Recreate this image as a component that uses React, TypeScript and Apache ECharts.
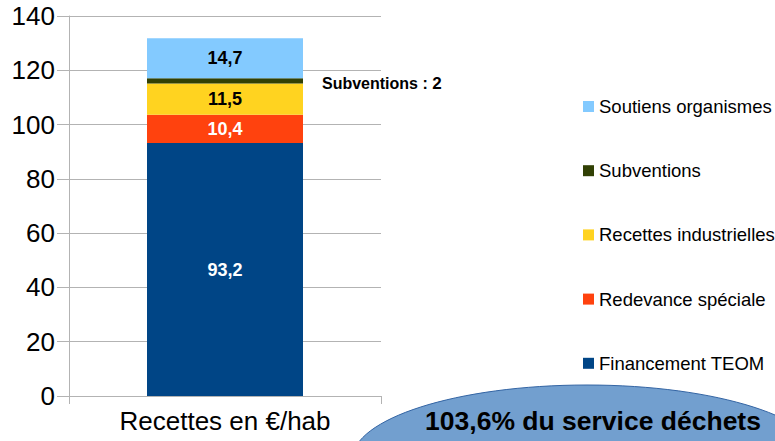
import React, { useEffect, useRef } from "react";
import * as echarts from "echarts";

const categories = ["Recettes en €/hab"];
const seriesNames = [
  "Financement TEOM",
  "Redevance spéciale",
  "Recettes industrielles",
  "Subventions",
  "Soutiens organismes",
];
const teom = [93.2];
const redevance = [10.4];
const recettesInd = [11.5];
const subventions = [2];
const soutiens = [14.7];
const colors = ["#004586", "#ff420e", "#ffd320", "#314004", "#83caff"];
const yTicks = { min: 0, max: 140, interval: 20 };
const calloutText = "103,6% du service déchets";

const FONT = "'Liberation Sans', Arial, sans-serif";

const fmt = (v: number) => String(v).replace(".", ",");

export default function App() {
  const ref = useRef<HTMLDivElement>(null);
  useEffect(() => {
    if (!ref.current) return;
    const chart = echarts.init(ref.current, null, { renderer: "svg" });
    const values = [teom, redevance, recettesInd, subventions, soutiens];
    const labelColors = ["#ffffff", "#ffffff", "#000000", "#000000", "#000000"];
    const series = values.map((vals, i) => {
      const base: any = {
        name: seriesNames[i],
        type: "bar",
        stack: "total",
        barWidth: "50%",
        data: vals,
        itemStyle: { color: colors[i] },
      };
      if (i === 3) {
        base.label = {
          show: true,
          position: "right",
          distance: 19,
          offset: [0, 3],
          fontFamily: FONT,
          fontWeight: "bold",
          fontSize: 16,
          color: "#000",
          formatter: (p: any) => `Subventions : {v|${fmt(p.value)}}`,
          rich: {
            v: { fontFamily: FONT, fontWeight: "bold", fontSize: 17, color: "#000" },
          },
        };
      } else {
        base.label = {
          show: true,
          position: "inside",
          fontFamily: FONT,
          fontWeight: "bold",
          fontSize: 18,
          color: labelColors[i],
          formatter: (p: any) => fmt(p.value),
        };
      }
      return base;
    });
    chart.setOption({
      animation: false,
      textStyle: { fontFamily: FONT },
      grid: { left: 69, right: 394, top: 16, bottom: 45, containLabel: false },
      legend: {
        orient: "vertical",
        left: 578,
        top: 92,
        itemWidth: 11,
        itemHeight: 11,
        itemGap: 45.2,
        icon: "rect",
        data: [...seriesNames].reverse(),
        textStyle: { fontFamily: FONT, fontSize: 18.5, color: "#000" },
        selectedMode: false,
      },
      xAxis: {
        type: "category",
        data: categories,
        axisLine: { lineStyle: { color: "#b3b3b3" } },
        axisTick: { show: true, length: 8, lineStyle: { color: "#b3b3b3" } },
        axisLabel: { fontFamily: FONT, fontSize: 26, color: "#000", margin: 12 },
      },
      yAxis: {
        type: "value",
        min: yTicks.min,
        max: yTicks.max,
        interval: yTicks.interval,
        axisLine: { show: true, lineStyle: { color: "#b3b3b3" } },
        axisTick: { show: true, length: 12, lineStyle: { color: "#b3b3b3" } },
        axisLabel: { fontFamily: FONT, fontSize: 26, color: "#000", margin: 14 },
        splitLine: { lineStyle: { color: "#b3b3b3" } },
      },
      series,
      graphic: [
        {
          type: "ellipse",
          shape: { cx: 587, cy: 460, rx: 235, ry: 75 },
          style: { fill: "#729fcf", stroke: "#3465a4", lineWidth: 1 },
          z: 10,
        },
        {
          type: "text",
          x: 593,
          y: 421,
          style: {
            text: calloutText,
            fontFamily: FONT,
            fontWeight: "bold",
            fontSize: 26.5,
            fill: "#000",
            align: "center",
            verticalAlign: "middle",
          },
          z: 11,
        },
      ],
    });
    return () => chart.dispose();
  }, []);
  return <div ref={ref} style={{ width: 775, height: 441, position: "absolute", left: 0, top: 0 }} />;
}
